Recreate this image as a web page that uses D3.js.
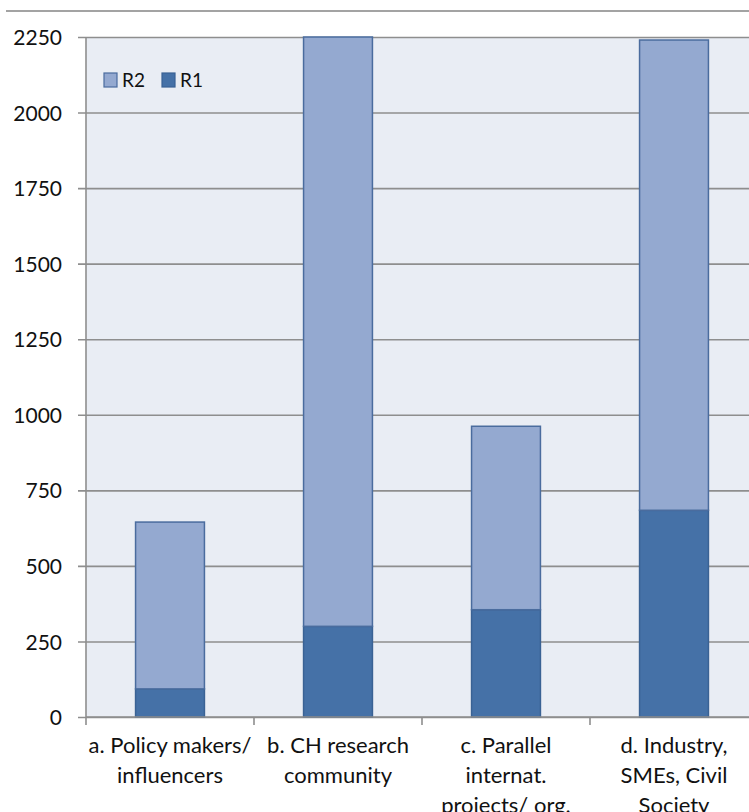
<!DOCTYPE html>
<html>
<head>
<meta charset="utf-8">
<script src="https://cdn.jsdelivr.net/npm/d3@7"></script>
<style>
  html, body { margin: 0; padding: 0; background: #ffffff; }
  svg { display: block; font-family: Lato, "Open Sans", sans-serif; }
</style>
</head>
<body>
<svg id="chart" width="749" height="812"></svg>
<script>
// Stakeholder groups on the x axis
const categories = ["a", "b", "c", "d"];
const categoryLines = [
  ["a. Policy makers/", "influencers"],
  ["b. CH research", "community"],
  ["c. Parallel", "internat.", "projects/ org."],
  ["d. Industry,", "SMEs, Civil", "Society"]
];
// Stacked series: R1 at the bottom, R2 on top
const seriesNames = ["R1", "R2"];
const r1Values = [93, 300, 355, 684];
const r2Values = [552, 2050, 607, 1556];
const yTicks = [0, 250, 500, 750, 1000, 1250, 1500, 1750, 2000, 2250];
const legendOrder = ["R2", "R1"];

const colors = { R1: "#4571A7", R2: "#94A9D0" };
const strokes = { R1: "#3A6294", R2: "#4A6C9E" };

const svg = d3.select("#chart");
const plotLeft = 86, plotTop = 37, plotBottom = 717, bandW = 168;
const plotW = bandW * categories.length;

const rows = categories.map((c, i) => ({ cat: c, R1: r1Values[i], R2: r2Values[i] }));
const stacked = d3.stack().keys(seriesNames)(rows);

const x = d3.scaleBand().domain(categories).range([plotLeft, plotLeft + plotW])
  .paddingInner(0.59).paddingOuter(0.295);
const y = d3.scaleLinear().domain([0, 2250]).range([plotBottom, plotTop]).clamp(true);

// top rule
svg.append("line").attr("x1", 6).attr("x2", 749).attr("y1", 11).attr("y2", 11)
  .attr("stroke", "#a3a3a3").attr("stroke-width", 2);

// plot background
svg.append("rect").attr("x", plotLeft).attr("y", plotTop)
  .attr("width", plotW).attr("height", plotBottom - plotTop)
  .attr("fill", "#E9EDF4");

// horizontal gridlines + y axis
const yAxis = d3.axisLeft(y).tickValues(yTicks).tickSize(-plotW).tickPadding(24)
  .tickFormat(d3.format("d"));
const gy = svg.append("g").attr("transform", `translate(${plotLeft},0)`).call(yAxis);
gy.select(".domain").remove();
gy.selectAll(".tick line").attr("stroke", "#8e8e8e").attr("stroke-width", 1.6).attr("x1", -8);
gy.selectAll(".tick text").attr("font-size", 21).attr("fill", "#111").attr("dy", "0.36em")
  .attr("font-family", "Lato, sans-serif");

// bars
svg.append("g").selectAll("g").data(stacked).join("g")
  .attr("fill", d => colors[d.key]).attr("stroke", d => strokes[d.key])
  .selectAll("rect").data(d => d).join("rect")
  .attr("x", d => x(d.data.cat))
  .attr("width", x.bandwidth())
  .attr("y", d => y(d[1]))
  .attr("height", d => y(d[0]) - y(d[1]))
  .attr("stroke-width", 1.5);

// vertical axis line
svg.append("line").attr("x1", plotLeft).attr("x2", plotLeft).attr("y1", plotTop).attr("y2", plotBottom)
  .attr("stroke", "#8e8e8e").attr("stroke-width", 1.6);

// x axis
const xEdge = d3.scaleLinear().domain([0, categories.length]).range([plotLeft, plotLeft + plotW]);
svg.append("line").attr("x1", plotLeft).attr("x2", plotLeft + plotW)
  .attr("y1", plotBottom).attr("y2", plotBottom).attr("stroke", "#8e8e8e").attr("stroke-width", 1.6);
svg.append("g").selectAll("line").data(d3.range(categories.length + 1)).join("line")
  .attr("x1", d => xEdge(d)).attr("x2", d => xEdge(d))
  .attr("y1", plotBottom).attr("y2", plotBottom + 8)
  .attr("stroke", "#8e8e8e").attr("stroke-width", 1.6);

// category labels
const lab = svg.append("g").selectAll("text").data(categories).join("text")
  .attr("text-anchor", "middle").attr("font-size", 22).attr("fill", "#111")
  .attr("x", d => x(d) + x.bandwidth() / 2).attr("y", 753);
lab.selectAll("tspan").data((d, i) => categoryLines[i]).join("tspan")
  .attr("x", function() { return d3.select(this.parentNode).attr("x"); })
  .attr("dy", (d, i) => i === 0 ? 0 : 30)
  .text(d => d);

// legend
const lg = svg.append("g").attr("transform", "translate(104,80)");
const items = lg.selectAll("g").data(legendOrder).join("g")
  .attr("transform", (d, i) => `translate(${i * 58},0)`);
items.append("rect").attr("x", 0).attr("y", -7).attr("width", 13).attr("height", 14)
  .attr("fill", d => colors[d]).attr("stroke", d => strokes[d]).attr("stroke-width", 1.2);
items.append("text").attr("x", 18).attr("y", 0).attr("dy", "0.36em")
  .attr("font-size", 19).attr("fill", "#111").text(d => d);
</script>
</body>
</html>
